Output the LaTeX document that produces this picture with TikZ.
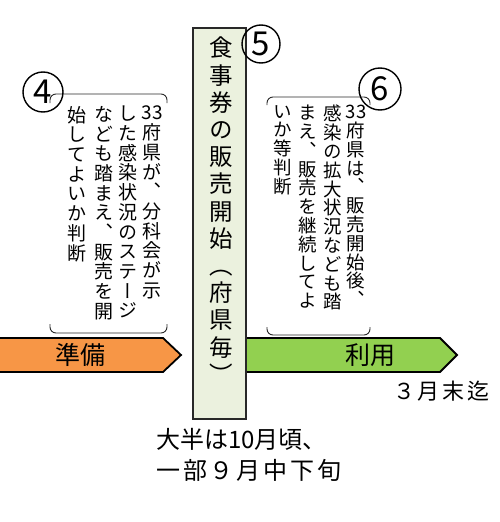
\documentclass[tikz,border=0pt]{standalone}
\usepackage{fontspec}
\usepackage{xcolor}
\usepackage{tikz}
\newfontfamily\jpfont{Noto Sans CJK JP}
\newfontfamily\jpwide[LetterSpace=12]{Noto Sans CJK JP}
\newfontfamily\jptate[RawFeature=+vert]{Noto Sans CJK JP}
\definecolor{preporange}{RGB}{247, 150, 70}
\definecolor{usegreen}{RGB}{146, 208, 80}
\definecolor{boxgreen}{RGB}{235, 241, 222}
\definecolor{edgegray}{RGB}{40, 40, 40}

% stack characters one per line (vertical writing)
\newcommand\tate[1]{\tatefirst#1\relax}
\def\tatefirst#1{#1\tatenext}
\def\tatenext#1{\ifx\relax#1\else\\#1\expandafter\tatenext\fi}

\begin{document}
\begin{tikzpicture}[x=1pt, y=-1pt,
  arrowbar/.style={draw=black, line width=1.8pt, line join=miter},
  bracket/.style={draw=edgegray, line width=0.9pt, rounded corners=6pt},
  tatecol/.style={align=center, inner sep=0pt, anchor=north, font=\fontsize{19}{19.7}\selectfont\jptate},
  tateright/.style={tatecol, font=\fontsize{18.5}{18.8}\selectfont\jptate},
  numcircle/.style={circle, draw, line width=1.4pt, inner sep=0pt, font=\fontsize{33}{33}\selectfont\jpfont}]
\useasboundingbox (0,0) rectangle (500,522);

% Phase arrows
\draw[arrowbar, fill=preporange] (-3,338) -- (163,338) -- (181,355) -- (163,372) -- (-3,372) -- cycle;
\draw[arrowbar, fill=usegreen] (240,338) -- (440,338) -- (457,355) -- (440,372) -- (240,372) -- cycle;
\node[font=\fontsize{25}{25}\selectfont\jpfont] (prep) at (80,355) {準備};
\node[font=\fontsize{25}{25}\selectfont\jpfont] (use) at (370,355) {利用};
\node[anchor=west, inner sep=0pt, font=\fontsize{22}{22}\selectfont\jpwide] (until) at (393,391) {３月末迄};

% Sale start box
\node[draw=edgegray, line width=1.2pt, fill=boxgreen, minimum width=53pt, minimum height=391pt] (mainbox) at (219.5,223.5) {};
\node[tatecol, font=\fontsize{23.5}{27.2}\selectfont\jptate] (maintext) at (221,37) {\tate{食事券の販売開始（府県毎）}};

% Brackets
\draw[bracket] (50,103) -- (50,94) -- (167,94) -- (167,103);
\draw[bracket] (50,324) -- (50,333) -- (167,333) -- (167,324);
\draw[bracket] (267,105) -- (267,97) -- (370,97) -- (370,105);
\draw[bracket] (267,327) -- (267,335) -- (370,335) -- (370,327);

% Text of step 4
\node[tatecol] (a1) at (152,106) {\tate{{33}府県が、分科会が示}};
\node[tatecol] (a2) at (128,106) {\tate{した感染状況のステージ}};
\node[tatecol] (a3) at (104,106) {\tate{なども踏まえ、販売を開}};
\node[tatecol] (a4) at (77,106) {\tate{始してよいか判断}};

% Text of step 6
\node[tateright] (b1) at (356,105) {\tate{{33}府県は、販売開始後、}};
\node[tateright] (b2) at (333,105) {\tate{感染の拡大状況なども踏}};
\node[tateright] (b3) at (308,105) {\tate{まえ、販売を継続してよ}};
\node[tateright] (b4) at (283,105) {\tate{いか等判断}};

% Step numbers
\node[numcircle, minimum size=40pt] (n4) at (43,92) {4};
\node[numcircle, minimum size=38pt] (n5) at (261,44) {5};
\node[numcircle, minimum size=42pt] (n6) at (380,89) {6};

% Timing note
\node[anchor=north west, align=left, inner sep=0pt, font=\fontsize{24}{31}\selectfont\jpfont] (timing) at (156,428) {大半は10月頃、\\{\jpwide 一部９月中下旬}};
\end{tikzpicture}
\end{document}
